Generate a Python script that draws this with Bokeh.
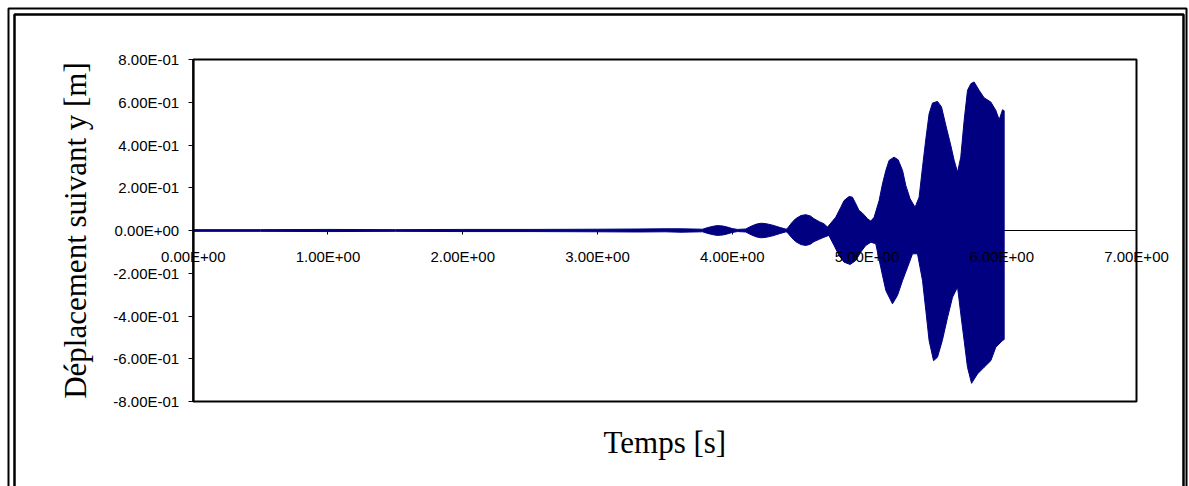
from bokeh.plotting import figure
from bokeh.models import Range1d, FixedTicker, LinearAxis, Label, BoxAnnotation
from bokeh.embed import file_html
from bokeh.resources import INLINE

# Upper and lower envelopes of the vertical displacement signal (m) vs time (s)
t_upper = [0.00, 0.50, 1.00, 1.50, 2.00, 2.50, 3.00, 3.30, 3.50, 3.62, 3.78,
           3.82, 3.86, 3.89, 3.93, 3.97, 4.00, 4.04,
           4.10, 4.14, 4.18, 4.215, 4.25, 4.30, 4.35, 4.40,
           4.41, 4.44, 4.47, 4.51, 4.546, 4.58, 4.607, 4.65, 4.68, 4.707,
           4.768, 4.806, 4.830, 4.867, 4.892, 4.917, 4.941, 4.967, 5.004, 5.028, 5.053,
           5.090, 5.115, 5.140, 5.164, 5.201, 5.231, 5.264, 5.288, 5.320, 5.357,
           5.387, 5.412, 5.437, 5.461, 5.486, 5.523, 5.553, 5.585, 5.622, 5.647, 5.672,
           5.696, 5.721, 5.746, 5.771, 5.795, 5.832, 5.869, 5.919, 5.956, 5.981, 6.006, 6.018]
y_upper = [0.004, 0.004, 0.005, 0.004, 0.005, 0.005, 0.006, 0.007, 0.008, 0.008, 0.006,
           0.014, 0.020, 0.023, 0.021, 0.015, 0.009, 0.005,
           0.007, 0.020, 0.030, 0.034, 0.032, 0.025, 0.015, 0.006,
           0.010, 0.035, 0.055, 0.070, 0.074, 0.068, 0.055, 0.040, 0.032, 0.016,
           0.062, 0.109, 0.140, 0.159, 0.156, 0.125, 0.094, 0.081, 0.055, 0.044, 0.062,
           0.140, 0.218, 0.281, 0.328, 0.343, 0.331, 0.281, 0.211, 0.148, 0.109,
           0.156, 0.296, 0.429, 0.546, 0.596, 0.604, 0.578, 0.492, 0.398, 0.328, 0.273,
           0.343, 0.515, 0.656, 0.687, 0.695, 0.656, 0.621, 0.601, 0.562, 0.518, 0.565, 0.560]

t_lower = [0.00, 0.50, 1.00, 1.50, 2.00, 2.50, 3.00, 3.30, 3.50, 3.62, 3.78,
           3.82, 3.86, 3.89, 3.93, 3.97, 4.00, 4.04,
           4.10, 4.14, 4.18, 4.215, 4.25, 4.30, 4.35, 4.40,
           4.41, 4.44, 4.47, 4.51, 4.546, 4.58, 4.607, 4.65, 4.68, 4.717,
           4.756, 4.793, 4.830, 4.875, 4.917, 4.955, 4.991, 5.029,
           5.065, 5.102, 5.140, 5.189, 5.226, 5.264, 5.301, 5.338,
           5.375, 5.412, 5.437, 5.461, 5.494, 5.523, 5.559, 5.598, 5.635, 5.672,
           5.696, 5.721, 5.746, 5.776, 5.820, 5.869, 5.919, 5.956, 6.006, 6.018]
y_lower = [-0.004, -0.004, -0.005, -0.004, -0.005, -0.005, -0.006, -0.007, -0.006, -0.008, -0.006,
           -0.014, -0.020, -0.023, -0.021, -0.015, -0.009, -0.005,
           -0.007, -0.020, -0.030, -0.034, -0.032, -0.025, -0.015, -0.006,
           -0.010, -0.033, -0.052, -0.066, -0.070, -0.064, -0.052, -0.040, -0.032, -0.023,
           -0.070, -0.117, -0.148, -0.159, -0.140, -0.100, -0.070, -0.055,
           -0.062, -0.172, -0.281, -0.343, -0.304, -0.234, -0.172, -0.109,
           -0.109, -0.234, -0.375, -0.515, -0.609, -0.593, -0.515, -0.406, -0.312, -0.265,
           -0.390, -0.515, -0.640, -0.715, -0.671, -0.640, -0.609, -0.546, -0.515, -0.510]

x_ticks = [0, 1, 2, 3, 4, 5, 6, 7]
x_tick_labels = ["0.00E+00", "1.00E+00", "2.00E+00", "3.00E+00",
                 "4.00E+00", "5.00E+00", "6.00E+00", "7.00E+00"]
y_ticks = [-0.8, -0.6, -0.4, -0.2, 0.0, 0.2, 0.4, 0.6, 0.8]
y_tick_labels = ["-8.00E-01", "-6.00E-01", "-4.00E-01", "-2.00E-01", "0.00E+00",
                 "2.00E-01", "4.00E-01", "6.00E-01", "8.00E-01"]

NAVY = "#000080"
TICK_FONT = "Liberation Sans"
TICK_SIZE = "15px"
TITLE_FONT = "Liberation Serif"

# canvas size and pixel box of the plotting area
W, H = 1189, 486
BOX_L, BOX_R, BOX_T, BOX_B = 192.7, 1136.0, 59.0, 401.0

x0, x1 = x_ticks[0], x_ticks[-1]
y0, y1 = y_ticks[0], y_ticks[-1]
sx = (BOX_R - BOX_L) / (x1 - x0)
sy = (BOX_B - BOX_T) / (y1 - y0)


def px_to_x(px):
    return x0 + (px - BOX_L) / sx


def py_to_y(py):
    return y1 - (py - BOX_T) / sy


# the frame covers the whole canvas so the axes cross inside it
p = figure(width=W, height=H, output_backend="svg", toolbar_location=None,
           x_range=Range1d(px_to_x(0), px_to_x(W)), y_range=Range1d(py_to_y(H), py_to_y(0)),
           x_axis_location=None, y_axis_location=None,
           min_border=0, min_border_left=0, min_border_right=0, min_border_top=0, min_border_bottom=0)

p.grid.visible = False
p.outline_line_color = None
p.background_fill_color = "white"
p.border_fill_color = "white"

# plotting-area border
p.add_layout(BoxAnnotation(left=x0, right=x1, bottom=y0, top=y1, fill_color=None,
                           line_color="black", line_alpha=1.0, line_width=2, level="underlay"))

# zero line with its ticks, kept beneath the signal (labels come from the axis below)
xline = LinearAxis(fixed_location=0, ticker=FixedTicker(ticks=x_ticks), bounds=(x0, x1),
                   level="underlay")
xline.axis_line_width = 1
xline.major_tick_in = 0
xline.major_tick_out = 4
xline.minor_tick_line_color = None
xline.major_label_text_color = None
xline.major_label_text_alpha = 0
p.add_layout(xline, "below")

# the signal oscillates so fast that it reads as a filled band between its envelopes
xs = t_upper + t_lower[::-1]
ys = y_upper + y_lower[::-1]
p.patch(xs, ys, fill_color=NAVY, line_color=NAVY, line_width=1)

# time labels along the zero line, drawn above the signal
xlab = LinearAxis(fixed_location=0, ticker=FixedTicker(ticks=x_ticks), bounds=(x0, x1),
                  major_label_overrides=dict(zip(x_ticks, x_tick_labels)))
xlab.axis_line_color = None
xlab.major_tick_line_color = None
xlab.minor_tick_line_color = None
xlab.major_tick_in = 0
xlab.major_tick_out = 4
xlab.major_label_standoff = 13
xlab.major_label_text_font = TICK_FONT
xlab.major_label_text_font_size = TICK_SIZE
xlab.major_label_text_color = "black"
p.add_layout(xlab, "below")

# vertical axis on the left edge of the plotting area
yax = LinearAxis(fixed_location=x0, ticker=FixedTicker(ticks=y_ticks), bounds=(y0, y1),
                 major_label_overrides=dict(zip(y_ticks, y_tick_labels)))
yax.axis_line_width = 2
yax.major_tick_in = 0
yax.major_tick_out = 5
yax.minor_tick_line_color = None
yax.major_label_standoff = 9
yax.major_label_text_font = TICK_FONT
yax.major_label_text_font_size = TICK_SIZE
yax.major_label_text_color = "black"
yax.axis_label = "Déplacement suivant y [m]"
yax.axis_label_text_font = TITLE_FONT
yax.axis_label_text_font_size = "31px"
yax.axis_label_text_font_style = "normal"
yax.axis_label_text_color = "black"
yax.axis_label_standoff = 18
p.add_layout(yax, "left")

p.add_layout(Label(x=(x0 + x1) / 2, y=py_to_y(442), text="Temps [s]",
                   text_font=TITLE_FONT, text_font_size="31px", text_align="center",
                   text_baseline="middle", text_color="black"))

# double frame around the chart
p.add_layout(BoxAnnotation(left=px_to_x(8), right=px_to_x(1186), top=py_to_y(8), bottom=py_to_y(700),
                           fill_color=None, line_color="black", line_alpha=1.0, line_width=2))
p.add_layout(BoxAnnotation(left=px_to_x(14), right=px_to_x(1183), top=py_to_y(14), bottom=py_to_y(700),
                           fill_color=None, line_color="black", line_alpha=1.0, line_width=2.5))

open("out.html", "w").write(file_html(p, INLINE))
